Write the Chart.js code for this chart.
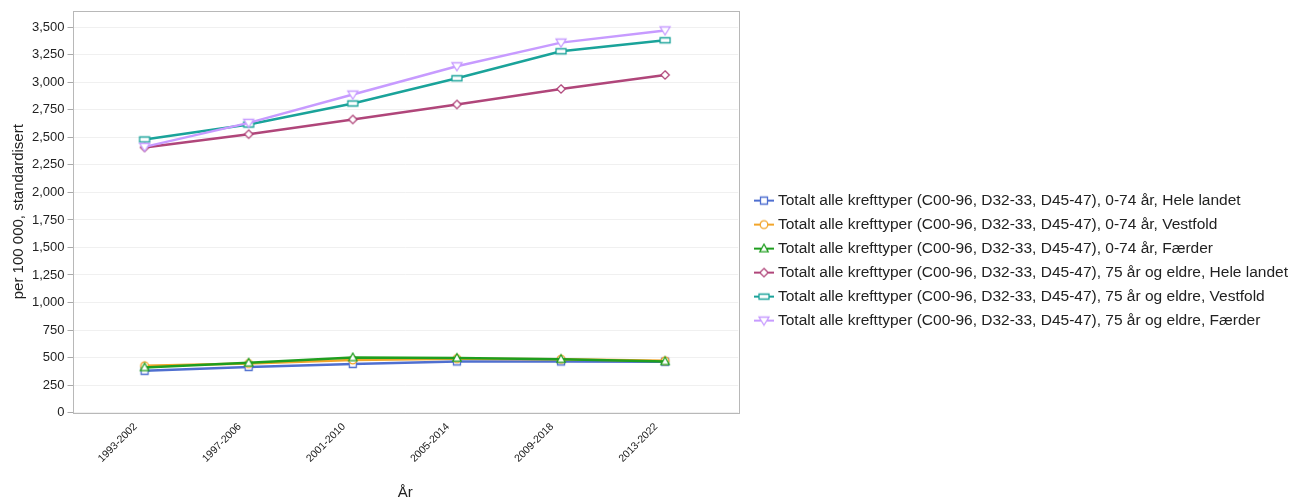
<!DOCTYPE html>
<html>
<head>
<meta charset="utf-8">
<script src="https://cdn.jsdelivr.net/npm/chart.js@4.4.1/dist/chart.umd.min.js"></script>
<style>
  html, body { margin: 0; padding: 0; background: #fff; }
  #wrap { width: 1306px; height: 502px; }
</style>
</head>
<body>
<div id="wrap"><canvas id="c" width="1306" height="502"></canvas></div>
<script>
const categories = ['1993-2002', '1997-2006', '2001-2010', '2005-2014', '2009-2018', '2013-2022'];
const seriesNames = [
  'Totalt alle krefttyper (C00-96, D32-33, D45-47), 0-74 år, Hele landet',
  'Totalt alle krefttyper (C00-96, D32-33, D45-47), 0-74 år, Vestfold',
  'Totalt alle krefttyper (C00-96, D32-33, D45-47), 0-74 år, Færder',
  'Totalt alle krefttyper (C00-96, D32-33, D45-47), 75 år og eldre, Hele landet',
  'Totalt alle krefttyper (C00-96, D32-33, D45-47), 75 år og eldre, Vestfold',
  'Totalt alle krefttyper (C00-96, D32-33, D45-47), 75 år og eldre, Færder'
];
const helelandet074 = [380, 415, 442, 465, 465, 462];
const vestfold074   = [425, 445, 478, 490, 485, 470];
const faerder074    = [410, 452, 500, 495, 485, 465];
const helelandet75  = [2409, 2529, 2663, 2799, 2940, 3067];
const vestfold75    = [2481, 2617, 2808, 3037, 3282, 3382];
const faerder75     = [2414, 2632, 2889, 3146, 3361, 3472];
const yTicks = [0, 250, 500, 750, 1000, 1250, 1500, 1750, 2000, 2250, 2500, 2750, 3000, 3250, 3500];

const seriesValues = [helelandet074, vestfold074, faerder074, helelandet75, vestfold75, faerder75];
const colors = ['#4f6fd0', '#f2a52a', '#1f9e1f', '#b0467a', '#1aa39a', '#c79bff'];
const styles = ['rect', 'circle', 'triangle', 'rectRot', 'flatrect', 'downtri'];
const FONT = '"Liberation Sans", Arial, sans-serif';

function drawMarker(ctx, style, cx, cy, color) {
  ctx.save();
  ctx.fillStyle = '#fff';
  ctx.strokeStyle = color;
  ctx.lineWidth = 1.3;
  ctx.beginPath();
  if (style === 'rect') {
    ctx.rect(cx - 3.5, cy - 3.5, 7, 7);
  } else if (style === 'circle') {
    ctx.arc(cx, cy, 3.8, 0, Math.PI * 2);
  } else if (style === 'triangle') {
    ctx.moveTo(cx, cy - 4.5); ctx.lineTo(cx + 4.2, cy + 3.2); ctx.lineTo(cx - 4.2, cy + 3.2); ctx.closePath();
  } else if (style === 'rectRot') {
    ctx.moveTo(cx, cy - 4.2); ctx.lineTo(cx + 4.2, cy); ctx.lineTo(cx, cy + 4.2); ctx.lineTo(cx - 4.2, cy); ctx.closePath();
  } else if (style === 'flatrect') {
    ctx.rect(cx - 5, cy - 2.5, 10, 5);
  } else if (style === 'downtri') {
    ctx.moveTo(cx, cy + 4.5); ctx.lineTo(cx + 5, cy - 3.5); ctx.lineTo(cx - 5, cy - 3.5); ctx.closePath();
  }
  ctx.fill();
  ctx.stroke();
  ctx.restore();
}

function makePointCanvas(style, color) {
  const c = document.createElement('canvas');
  c.width = 14; c.height = 12;
  drawMarker(c.getContext('2d'), style, 7, 6, color);
  return c;
}
function makeLegendCanvas(style, color) {
  const c = document.createElement('canvas');
  c.width = 20; c.height = 12;
  const ctx = c.getContext('2d');
  ctx.strokeStyle = color;
  ctx.lineWidth = 2;
  ctx.beginPath(); ctx.moveTo(0, 6); ctx.lineTo(20, 6); ctx.stroke();
  drawMarker(ctx, style, 10, 6, color);
  return c;
}

const pointImgs = styles.map((s, i) => makePointCanvas(s, colors[i]));
const legendImgs = styles.map((s, i) => makeLegendCanvas(s, colors[i]));

const datasets = seriesValues.map((vals, i) => ({
  label: seriesNames[i],
  data: vals.map((v, j) => ({ x: j, y: v })),
  borderColor: colors[i],
  backgroundColor: colors[i],
  borderWidth: 2.5,
  pointStyle: pointImgs[i],
  pointRadius: 4,
  pointHoverRadius: 4,
  tension: 0,
  order: 5 - i
}));

const frame = {
  id: 'frame',
  afterDatasetsDraw(chart) {
    const a = chart.chartArea, ctx = chart.ctx;
    ctx.save();
    ctx.strokeStyle = '#b8b8b8';
    ctx.lineWidth = 1;
    ctx.strokeRect(Math.round(a.left) + 0.5, Math.round(a.top) + 0.5, Math.round(a.right - a.left), Math.round(a.bottom - a.top));
    ctx.restore();
  }
};

new Chart(document.getElementById('c'), {
  type: 'line',
  data: { datasets },
  plugins: [frame],
  options: {
    responsive: false,
    animation: false,
    devicePixelRatio: 1,
    layout: { padding: { left: 10, right: 8, top: 10, bottom: 0 } },
    plugins: {
      tooltip: { enabled: false },
      legend: {
        position: 'right',
        align: 'center',
        maxWidth: 620,
        title: { display: true, text: ' ', font: { size: 1 }, padding: 4 },
        labels: {
          usePointStyle: true,
          pointStyleWidth: 12.5,
          boxHeight: 12,
          padding: 8.5,
          color: '#222',
          font: { family: FONT, size: 15.5 },
          generateLabels(chart) {
            return chart.data.datasets.map((ds, i) => ({
              text: ds.label,
              pointStyle: legendImgs[i],
              fillStyle: colors[i],
              strokeStyle: colors[i],
              lineWidth: 0,
              hidden: false,
              datasetIndex: i,
              fontColor: '#222'
            }));
          }
        }
      }
    },
    scales: {
      x: {
        type: 'linear',
        min: -0.692,
        max: 5.702,
        afterBuildTicks(scale) { scale.ticks = categories.map((_, i) => ({ value: i })); },
        ticks: {
          autoSkip: false,
          minRotation: 45,
          maxRotation: 45,
          color: '#222',
          padding: 0,
          labelOffset: -9,
          font: { family: FONT, size: 10.5 },
          callback: (v) => categories[v]
        },
        grid: { display: false },
        border: { display: false },
        title: {
          display: true,
          text: 'År',
          color: '#222',
          font: { family: FONT, size: 15 },
          padding: { top: 19, bottom: 0 }
        }
      },
      y: {
        type: 'linear',
        min: 0,
        max: 3650,
        afterBuildTicks(scale) { scale.ticks = yTicks.map(v => ({ value: v })); },
        ticks: {
          color: '#222',
          padding: 3,
          font: { family: FONT, size: 13 },
          callback: (v) => v.toLocaleString('en-US')
        },
        grid: { color: '#f0f0f0', tickColor: '#aaa', tickLength: 5 },
        border: { display: false },
        title: {
          display: true,
          text: 'per 100 000, standardisert',
          color: '#222',
          font: { family: FONT, size: 15 },
          padding: { top: 0, bottom: 1 }
        }
      },
      gap: {
        type: 'linear',
        position: 'right',
        display: true,
        ticks: { display: false },
        grid: { display: false, drawTicks: false },
        border: { display: false },
        afterFit(scale) { scale.width = 11; }
      }
    }
  }
});
</script>
</body>
</html>
